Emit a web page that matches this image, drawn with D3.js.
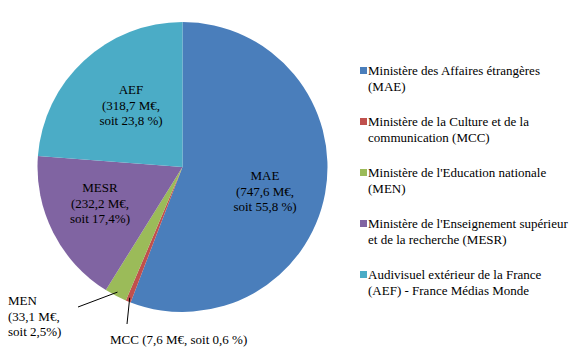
<!DOCTYPE html>
<html>
<head>
<meta charset="utf-8">
<script src="https://cdn.jsdelivr.net/npm/d3@7"></script>
</head>
<body style="margin:0;background:#fff">
<div id="app"></div>
<script>
const codes = ['MAE', 'MCC', 'MEN', 'MESR', 'AEF']
const values = [747.6, 7.6, 33.1, 232.2, 318.7]
const colors = ['#4a7ebb', '#c0504d', '#9bbb59', '#8064a2', '#4bacc6']
const legendLabels = [
  ['Ministère des Affaires étrangères', '(MAE)'],
  ['Ministère de la Culture et de la', 'communication (MCC)'],
  ["Ministère de l'Education nationale", '(MEN)'],
  ["Ministère de l'Enseignement supérieur", 'et de la recherche (MESR)'],
  ['Audivisuel extérieur de la France', '(AEF) - France Médias Monde'],
]
const sliceLabels = [
  ['MAE', '(747,6  M€,', 'soit 55,8 %)'],
  ['MCC (7,6 M€, soit 0,6 %)'],
  ['MEN', '(33,1 M€,', 'soit 2,5%)'],
  ['MESR', '(232,2 M€,', 'soit 17,4%)'],
  ['AEF', '(318,7 M€,', 'soit 23,8 %)'],
]

const width = 577
const height = 352
const cx = 182.5
const cy = 167
const radius = 145
const lineH = 15.5

const svg = d3.select('#app').append('svg')
  .attr('width', width)
  .attr('height', height)

const color = d3.scaleOrdinal().domain(codes).range(colors)

const data = codes.map((c, i) => ({ code: c, value: values[i], label: sliceLabels[i] }))
const arcs = d3.pie().value((d) => d.value).sort(null)(data)
const arc = d3.arc().innerRadius(0).outerRadius(radius)

svg.append('g')
  .attr('transform', `translate(${cx},${cy})`)
  .selectAll('path')
  .data(arcs)
  .join('path')
  .attr('d', arc)
  .attr('fill', (d) => color(d.data.code))

function addText(x, y, str, anchor) {
  svg.append('text')
    .attr('x', x)
    .attr('y', y)
    .style('font-family', 'Liberation Serif')
    .style('font-size', '13px')
    .attr('fill', '#000')
    .attr('text-anchor', anchor)
    .text(str)
}

// hand-placed label spots, like the original
const labelY = { MAE: 180, AEF: 94, MESR: 192, MEN: 305, MCC: 344 }
const labelX = { MAE: 265, AEF: 131, MESR: 100, MEN: 8, MCC: 110 }

arcs.forEach((d) => {
  const code = d.data.code
  const anchor = code === 'MEN' || code === 'MCC' ? 'start' : 'middle'
  d.data.label.forEach((line, i) => addText(labelX[code], labelY[code] + i * lineH, line, anchor))
})

// leader lines for the two thin slices
const leaders = { MEN: [78, 307], MCC: [127, 324] }
arcs.filter((d) => leaders[d.data.code]).forEach((d) => {
  const mid = (d.startAngle + d.endAngle) / 2
  const r = radius - 4
  const [x2, y2] = leaders[d.data.code]
  svg.append('line')
    .attr('x1', cx + Math.sin(mid) * r)
    .attr('y1', cy - Math.cos(mid) * r)
    .attr('x2', x2)
    .attr('y2', y2)
    .attr('stroke', '#000')
    .attr('stroke-width', 1)
})

// legend
codes.forEach((c, i) => {
  const y = 67 + i * 51
  svg.append('rect')
    .attr('x', 360)
    .attr('y', y)
    .attr('width', 7)
    .attr('height', 7)
    .attr('fill', color(c))
  legendLabels[i].forEach((line, j) => addText(368, y + 8 + j * lineH, line, 'start'))
})
</script>
</body>
</html>
